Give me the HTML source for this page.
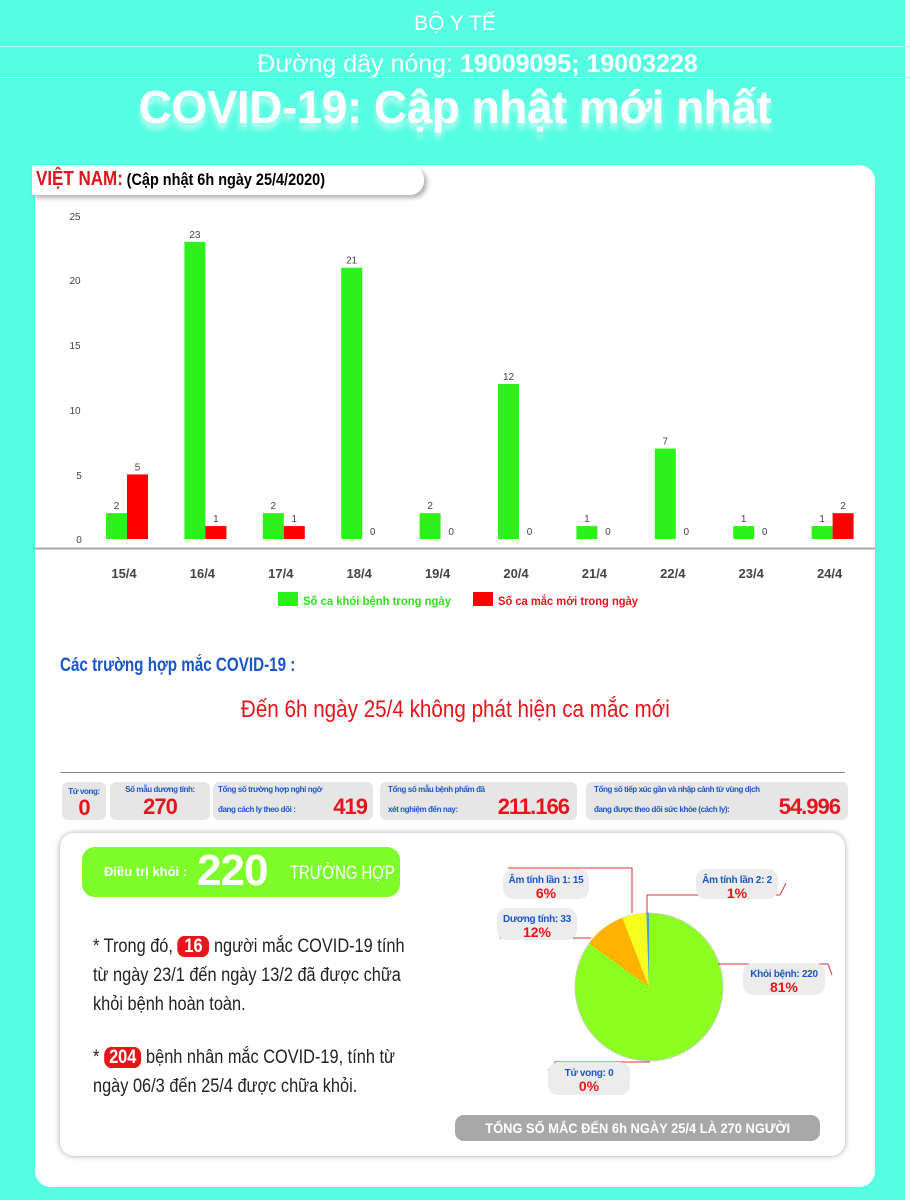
<!DOCTYPE html>
<html><head><meta charset="utf-8">
<style>
*{margin:0;padding:0;box-sizing:border-box}
body{width:910px;height:1200px;background:#55fde2;position:relative;overflow:hidden;font-family:"Liberation Sans",sans-serif}
.abs{position:absolute}
.hline{position:absolute;left:0;width:910px;height:1px;background:#a8fff0}
.box{position:absolute;background:#e6e6e6;border-radius:6px;height:38px;top:782px}
.lbl{font-size:8px;color:#1a56c8;font-weight:bold;line-height:10px;letter-spacing:-0.4px;white-space:nowrap}
.big{color:#e8141b;font-weight:bold;font-size:22px;letter-spacing:-1px}
.pl{position:absolute;background:#ececec;border-radius:10px;text-align:center;font-weight:bold;line-height:13px;padding-top:3px;white-space:nowrap}
.pl b{display:block;color:#e8141b;font-size:14px}
.pl span{color:#1a56c8;font-size:10px;letter-spacing:-0.3px}
.para{position:absolute;left:93px;font-size:19px;line-height:29px;color:#222;white-space:nowrap;transform:scaleX(0.86);transform-origin:0 0}
</style></head><body>
<div class="abs" style="right:0;top:0;width:5px;height:1200px;background:#eafffb"></div>
<div class="abs" style="left:0;top:12px;width:910px;text-align:center;color:#fff;font-size:21px;">BỘ Y TẾ</div>
<div class="hline" style="top:46px"></div>
<div class="abs" style="left:0;top:50px;width:955px;text-align:center;color:#fff;font-size:25px;">Đường dây nóng: <b>19009095; 19003228</b></div>
<div class="hline" style="top:77px"></div>
<div class="abs" style="left:0;top:80px;width:910px;text-align:center;color:#fff;font-size:46px;font-weight:bold;text-shadow:0 6px 6px rgba(255,255,255,.6);letter-spacing:-0.5px">COVID-19: Cập nhật mới nhất</div>

<div class="abs" style="left:35px;top:165px;width:840px;height:1022px;background:#fff;border-radius:16px"></div>
<div class="abs" style="left:32px;top:165px;width:392px;height:30px;background:#fff;border-radius:0 14px 14px 0;box-shadow:3px 3px 5px rgba(0,0,0,.3)"></div>
<div class="abs" style="left:36px;top:168px;font-weight:bold;white-space:nowrap;transform:scaleX(0.85);transform-origin:0 0"><span style="color:#e0141b;font-size:20px">VIỆT NAM:</span> <span style="font-size:17px">(Cập nhật 6h ngày 25/4/2020)</span></div>

<svg class="abs" style="left:0;top:0" width="910" height="620" font-family="Liberation Sans, sans-serif">
<g font-size="10" fill="#444">
<text x="75" y="220" text-anchor="middle">25</text>
<text x="75" y="284" text-anchor="middle">20</text>
<text x="75" y="349" text-anchor="middle">15</text>
<text x="75" y="414" text-anchor="middle">10</text>
<text x="79" y="479" text-anchor="middle">5</text>
<text x="79" y="543" text-anchor="middle">0</text>
</g>
<line x1="33" y1="548.5" x2="875" y2="548.5" stroke="#aaa" stroke-width="2"/>
<g id="bars"></g>
<g font-size="13" font-weight="bold" fill="#444" text-anchor="middle" id="xl"></g>
<rect x="278" y="592" width="20" height="14" fill="#2ef01a"/>
<text x="303" y="605" font-size="12" font-weight="bold" fill="#2ee01a" textLength="148" lengthAdjust="spacingAndGlyphs">Số ca khỏi bệnh trong ngày</text>
<rect x="473" y="592" width="20" height="14" fill="#ff0000"/>
<text x="498" y="605" font-size="12" font-weight="bold" fill="#e8141b" textLength="140" lengthAdjust="spacingAndGlyphs">Số ca mắc mới trong ngày</text>
<line x1="35" y1="625.5" x2="880" y2="625.5" stroke="#777" stroke-width="1"/>
</svg>

<div class="abs" style="left:60px;top:655px;color:#1a56c8;font-size:19px;font-weight:bold;white-space:nowrap;transform:scaleX(0.8);transform-origin:0 0">Các trường hợp mắc COVID-19 :</div>
<div class="abs" style="left:0;top:696px;width:910px;text-align:center;color:#e8141b;font-size:24px;"><span style="display:inline-block;transform:scaleX(0.86)">Đến 6h ngày 25/4 không phát hiện ca mắc mới</span></div>
<div class="abs" style="left:60px;top:772px;width:785px;height:1px;background:#888"></div>

<div class="box" style="left:62px;width:44px;text-align:center"><div class="lbl" style="padding-top:5px">Tử vong:</div><div class="big" style="line-height:22px">0</div></div>
<div class="box" style="left:110px;width:100px;text-align:center"><div class="lbl" style="padding-top:3px">Số mẫu dương tính:</div><div class="big" style="line-height:24px">270</div></div>
<div class="box" style="left:213px;width:160px"><div class="lbl" style="padding:3px 0 0 5px">Tổng số trường hợp nghi ngờ<br><br>đang cách ly theo dõi :</div><div class="big abs" style="right:6px;top:12px">419</div></div>
<div class="box" style="left:380px;width:197px"><div class="lbl" style="padding:3px 0 0 8px">Tổng số mẫu bệnh phẩm đã<br><br>xét nghiệm đến nay:</div><div class="big abs" style="right:8px;top:12px">211.166</div></div>
<div class="box" style="left:586px;width:262px"><div class="lbl" style="padding:3px 0 0 8px">Tổng số tiếp xúc gần và nhập cảnh từ vùng dịch<br><br>đang được theo dõi sức khỏe (cách ly):</div><div class="big abs" style="right:8px;top:12px">54.996</div></div>

<div class="abs" style="left:60px;top:833px;width:785px;height:323px;background:#fff;border-radius:14px;box-shadow:0 0 6px rgba(0,0,0,.35)"></div>
<div class="abs" style="left:82px;top:847px;width:318px;height:50px;background:#7dfc2a;border-radius:13px;color:#fff;font-weight:bold;white-space:nowrap"><span class="abs" style="left:22px;top:17px;font-size:13px">Điều trị khỏi :</span><span class="abs" style="left:115px;top:-1px;font-size:44px;letter-spacing:-1px">220</span><span class="abs" style="left:208px;top:16px;font-size:19px;font-weight:normal;transform:scaleX(0.78);transform-origin:0 0">TRƯỜNG HỢP</span></div>

<div class="para" style="top:932px">* Trong đó, <span style="background:#e8141b;color:#fff;border-radius:8px;padding:0 8px;font-weight:bold">16</span> người mắc COVID-19 tính<br>từ ngày 23/1 đến ngày 13/2 đã được chữa<br>khỏi bệnh hoàn toàn.</div>
<div class="para" style="top:1043px">* <span style="background:#e8141b;color:#fff;border-radius:8px;padding:0 6px;font-weight:bold">204</span> bệnh nhân mắc COVID-19, tính từ<br>ngày 06/3 đến 25/4 được chữa khỏi.</div>

<svg class="abs" style="left:0;top:0" width="910" height="1200">
<g transform="translate(649,987)">
<circle r="74" fill="#8cff22" stroke="#ccc" stroke-width="1"/>
<path id="p1" fill="#ffb300"/><path id="p2" fill="#f6ff1e"/><path id="p3" fill="#3fa4d8"/>
</g>
<g fill="none" stroke="#d33" stroke-width="1">
<path d="M632 913 V868 H508"/>
<path d="M591 938 H500"/>
<path d="M647 914 V895 H780 L786 883"/>
<path d="M718 964 H828 L832 975"/>
<path d="M650 1062 H555 L548 1070"/>
</g>
</svg>
<div class="pl" style="left:503px;top:869px;width:86px;height:30px"><span>Âm tính lần 1: 15</span><b>6%</b></div>
<div class="pl" style="left:497px;top:908px;width:80px;height:32px"><span>Dương tính: 33</span><b>12%</b></div>
<div class="pl" style="left:696px;top:869px;width:82px;height:30px"><span>Âm tính lần 2: 2</span><b>1%</b></div>
<div class="pl" style="left:743px;top:963px;width:82px;height:32px"><span>Khỏi bệnh: 220</span><b>81%</b></div>
<div class="pl" style="left:548px;top:1062px;width:82px;height:33px"><span>Tử vong: 0</span><b>0%</b></div>
<div class="abs" style="left:455px;top:1115px;width:365px;height:26px;background:#a8a8a8;border-radius:9px;color:#fff;text-align:center;font-weight:bold;font-size:14px;line-height:26px;white-space:nowrap"><span style="display:inline-block;transform:scaleX(0.92)">TỔNG SỐ MẮC ĐẾN 6h NGÀY 25/4 LÀ 270 NGƯỜI</span></div>

<script>
var g=[2,23,2,21,2,12,1,7,1,1],r=[5,1,1,0,0,0,0,0,0,2],d=["15/4","16/4","17/4","18/4","19/4","20/4","21/4","22/4","23/4","24/4"];
var ns="http://www.w3.org/2000/svg",B=document.getElementById("bars"),X=document.getElementById("xl");
function el(t,a,p,txt){var e=document.createElementNS(ns,t);for(var k in a)e.setAttribute(k,a[k]);if(txt!==undefined)e.textContent=txt;p.appendChild(e);return e}
for(var i=0;i<10;i++){var c=127+78.4*i,u=12.92;
el("rect",{x:c-21,y:539-g[i]*u,width:21,height:g[i]*u,fill:"#2ef01a"},B);
if(r[i])el("rect",{x:c,y:539-r[i]*u,width:21,height:r[i]*u,fill:"#ff0000"},B);
el("text",{x:c-10.5,y:535-g[i]*u,"font-size":10,"text-anchor":"middle",fill:"#444"},B,g[i]);
el("text",{x:c+10.5,y:535-r[i]*u,"font-size":10,"text-anchor":"middle",fill:"#444"},B,r[i]);
el("text",{x:c-3,y:578},X,d[i]);}
function arc(id,a0,a1){var R=74,f=Math.PI/180;var x0=R*Math.sin(a0*f),y0=-R*Math.cos(a0*f),x1=R*Math.sin(a1*f),y1=-R*Math.cos(a1*f);
document.getElementById(id).setAttribute("d","M0 0L"+x0+" "+y0+"A74 74 0 0 1 "+x1+" "+y1+"Z");}
arc("p1",306,339);arc("p2",339,358);arc("p3",358,360);
</script>
</body></html>
